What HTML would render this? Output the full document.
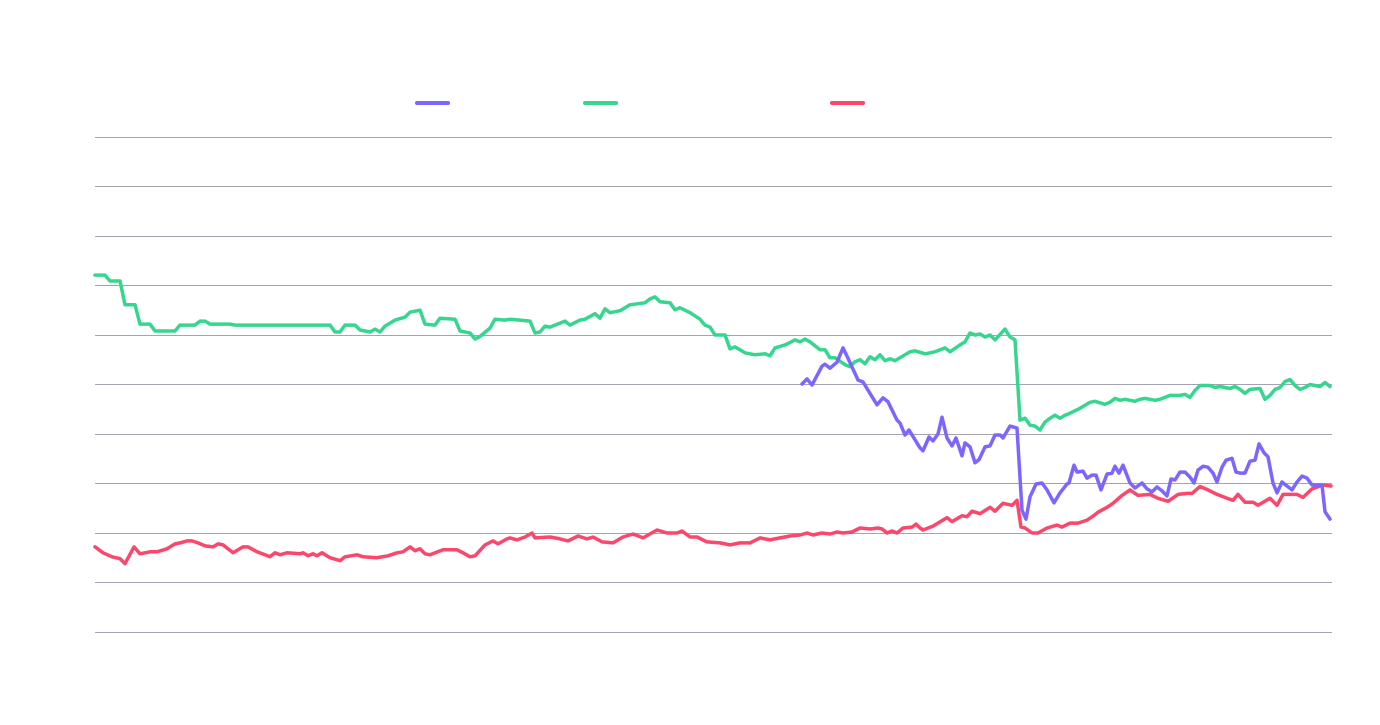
<!DOCTYPE html>
<html><head><meta charset="utf-8"><style>
html,body{margin:0;padding:0;background:#fff;}
svg{display:block;font-family:"Liberation Sans",sans-serif;}
</style></head><body>
<svg id="chart" width="1380" height="725" viewBox="0 0 1380 725" xmlns="http://www.w3.org/2000/svg">
<g id="grid"></g>
<g id="legend"></g>
<g id="series"></g>
</svg>
<script>
const yTicks = [0,10,20,30,40,50,60,70,80,90,100];
const seriesNames = ["purple-series","green-series","red-series"];
const seriesColors = ["#7b66ff","#36d68e","#fc476c"];
const greenDays = [0,2,3,5,6,8,9,11,12,16,17,20,21,22,23,27,28,47,48,49,50,52,53,55,56,57,58,60,62,63,65,66,68,69,72,73,75,76,77,79,80,82,83,85,87,88,89,90,91,93,94,95,97,98,100,101,102,103,105,106,107,110,111,112,113,115,116,117,119,121,122,123,124,126,127,128,130,132,134,135,136,138,140,141,142,143,145,146,147,148,150,151,152,153,154,155,156,157,158,159,160,162,163,164,166,168,170,171,173,174,175,176,177,178,179,180,182,183,184,185,186,187,188,189,190,191,192,193,194,195,197,199,200,202,203,204,205,206,208,209,210,212,213,214,215,217,218,219,220,221,223,224,225,227,228,229,230,231,233,234,235,236,237,238,239,240,241,242,243,245,246,247];
const greenValues = [72.0,72.0,70.8,70.8,66.0,66.0,62.1,62.1,60.7,60.7,61.9,61.9,62.7,62.7,62.1,62.1,61.9,61.9,60.5,60.5,61.9,61.9,60.9,60.5,61.1,60.5,61.7,62.9,63.5,64.5,64.9,62.1,61.9,63.3,63.1,60.7,60.3,59.1,59.6,61.3,63.1,62.9,63.1,62.9,62.7,60.3,60.5,61.7,61.5,62.3,62.7,61.9,62.9,63.1,64.2,63.3,65.2,64.4,64.8,65.4,66.0,66.4,67.2,67.6,66.6,66.4,65.0,65.4,64.4,63.1,61.9,61.5,59.9,59.9,57.1,57.5,56.3,55.9,56.1,55.7,57.3,57.9,58.9,58.5,59.1,58.5,56.9,56.9,55.3,55.3,53.9,53.5,54.5,54.9,54.1,55.5,54.9,55.9,54.7,55.1,54.7,55.9,56.5,56.7,56.1,56.5,57.3,56.5,57.9,58.5,60.3,59.9,60.1,59.5,59.9,58.9,61.1,59.5,58.9,42.7,43.1,41.7,41.5,40.7,42.3,43.1,43.7,43.1,43.7,44.1,45.1,46.3,46.5,45.9,46.3,47.1,46.7,46.9,46.5,46.9,47.1,46.7,46.9,47.3,47.7,47.7,47.9,47.3,48.7,49.7,49.7,49.3,49.5,49.1,49.5,48.9,48.1,48.9,49.1,46.9,47.7,48.9,49.3,50.5,50.9,49.7,48.9,49.3,49.9,49.5,50.3,49.5];
const purpleDays = [141.4,142.4,143.4,145.4,146,147,148.4,149.6,150.6,152.6,153.6,156.4,157.6,158.6,160.4,161,162,162.8,165,165.6,166.8,167.6,168.6,169.4,170.4,171.4,172.2,173.4,174,175,176,176.8,178,179,180,181,181.6,183,184.4,185.4,186.2,187,188.2,189.4,190.4,191.8,193,194.4,194.8,195.8,196.4,197.6,198.4,199.4,200.2,201.2,202.4,203.4,204,204.8,205.6,207,208,209.4,210.4,211.4,212.4,213.4,214.4,215.2,216,217,218,219,219.8,220.6,221.6,222.6,223.6,224.4,225.4,226.2,227.4,228.2,229,230,231,232,232.8,233.8,234.6,235.6,236.4,237.4,238.4,239.4,240.4,241.4,242.4,243.4,244.4,245.4,246,247];
const purpleValues = [50.0,51.0,49.8,53.6,54.0,53.2,54.4,57.3,55.2,50.8,50.4,45.8,47.2,46.4,42.7,42.1,39.7,40.7,37.1,36.5,39.3,38.5,39.9,43.3,39.1,37.5,39.1,35.5,38.1,37.3,34.1,34.7,37.3,37.5,39.7,39.7,39.1,41.5,41.1,24.5,22.7,27.2,29.8,30.0,28.6,26.0,28.0,29.8,30.0,33.6,32.2,32.4,31.0,31.6,31.6,28.6,31.8,32.0,33.4,32.0,33.6,30.0,29.0,30.0,28.8,28.2,29.2,28.4,27.4,30.8,30.6,32.2,32.2,31.2,30.0,32.6,33.4,33.2,32.0,30.2,33.2,34.6,35.0,32.2,32.0,32.0,34.4,34.6,37.9,36.1,35.3,30.0,28.0,30.2,29.4,28.6,30.2,31.4,31.0,29.6,29.6,29.6,24.2,22.7];
const redDays = [0,1.6,3.4,5,6,7.8,9,11,12.4,14.4,16,17,18.4,19.4,20.6,22,23.6,24.6,25.6,27.6,29.6,30.6,32.4,35,36,37,38.4,41,41.6,42.6,43.6,44.4,45.4,47,49,50,52.4,53.6,56.4,58.6,60.4,61.6,63,64,65,66,67,69.6,72.4,73.6,75,76,78,79.6,80.6,82.4,83,84.4,86,87.4,88,91,93,94.6,96.6,98.4,99.6,101.4,103.6,105.6,107.6,109.6,112.4,114.4,116.4,117.4,119,120.4,122.4,125,127,129,131,133,135,137,139,141,142.4,143.6,145.4,147,148.4,149.6,151.4,153,155,156.6,157.4,158.4,159.4,160.4,161.6,163.4,164.2,165,165.6,167.6,170.4,171.4,173.4,174.4,175.4,177,179,180,181.6,183.4,184.4,185.2,186,187.4,188.6,190.4,192.4,193.4,195,196.6,198.4,199.6,200.6,202.4,203.6,205.4,207,208.6,211,212.6,214.6,216.6,218.4,219.4,221,222.6,224.4,226.4,227.6,228.6,230,231.6,232.6,235,236.4,237.6,240.4,241.6,243.4,245.6,247.2];
const redValues = [17.1,15.9,15.1,14.7,13.7,17.1,15.7,16.1,16.1,16.7,17.7,17.9,18.3,18.3,17.9,17.3,17.1,17.7,17.5,15.9,17.1,17.1,16.1,15.1,15.9,15.5,15.9,15.7,15.9,15.3,15.7,15.3,15.9,14.9,14.3,15.1,15.5,15.1,14.9,15.3,15.9,16.1,17.1,16.3,16.7,15.7,15.5,16.5,16.5,15.9,15.1,15.3,17.5,18.3,17.7,18.7,18.9,18.5,19.1,19.9,18.9,19.1,18.7,18.3,19.3,18.7,19.1,18.1,17.9,19.1,19.7,18.9,20.5,19.9,19.9,20.3,19.1,19.1,18.1,17.9,17.5,17.9,17.9,18.9,18.5,18.9,19.3,19.5,19.9,19.5,19.9,19.7,20.1,19.9,20.1,20.9,20.7,20.9,20.7,19.9,20.3,19.9,20.9,21.1,21.7,20.9,20.5,21.3,23.0,22.2,23.4,23.2,24.3,23.8,25.1,24.3,25.9,25.5,26.5,21.1,20.9,19.9,19.9,20.9,21.5,21.1,21.9,21.9,22.5,23.3,24.1,25.1,25.9,27.5,28.6,27.5,27.7,26.9,26.3,27.7,27.9,27.9,29.3,28.6,27.7,26.9,26.5,27.7,26.1,26.1,25.5,26.9,25.5,27.7,27.7,27.1,28.8,29.6,29.4];

const NS="http://www.w3.org/2000/svg";
const X0=95,X1=1332,Y0=631.5,Y1=136.5,DMAX=247.4,VMAX=100;
function xScale(d){return X0+(d/DMAX)*(X1-X0);}
function yScale(v){return Y0-(v/VMAX)*(Y0-Y1);}
const grid=document.getElementById('grid');
yTicks.forEach(t=>{
  const l=document.createElementNS(NS,'line');
  
  
  l.setAttribute('x1',X0);l.setAttribute('x2',X1);
  const y=Math.round(yScale(t))+0.5;
  l.setAttribute('y1',y);l.setAttribute('y2',y);
  l.setAttribute('stroke','#a5a2b4');l.setAttribute('stroke-width','1');
  grid.appendChild(l);
});
const legendX=[415,583,830];
const legend=document.getElementById('legend');
seriesColors.forEach((c,i)=>{
  const l=document.createElementNS(NS,'line');
  
  
  l.setAttribute('x1',legendX[i]+2);l.setAttribute('x2',legendX[i]+33);
  l.setAttribute('y1',103);l.setAttribute('y2',103);
  l.setAttribute('stroke',c);l.setAttribute('stroke-width','4');l.setAttribute('stroke-linecap','round');
  legend.appendChild(l);
});
const sg=document.getElementById('series');
const all=[[purpleDays,purpleValues],[greenDays,greenValues],[redDays,redValues]];
const order=[1,2,0];
order.forEach(i=>{
  const [ds,vs]=all[i];
  const p=document.createElementNS(NS,'path');
  
  
  let d='';
  ds.forEach((dd,k)=>{d+=(k?'L':'M')+xScale(dd).toFixed(1)+','+yScale(vs[k]).toFixed(1);});
  p.setAttribute('d',d);
  p.setAttribute('fill','none');p.setAttribute('stroke',seriesColors[i]);
  p.setAttribute('stroke-width','3.5');p.setAttribute('stroke-linejoin','round');p.setAttribute('stroke-linecap','round');
  sg.appendChild(p);
});
</script>
</body></html>
